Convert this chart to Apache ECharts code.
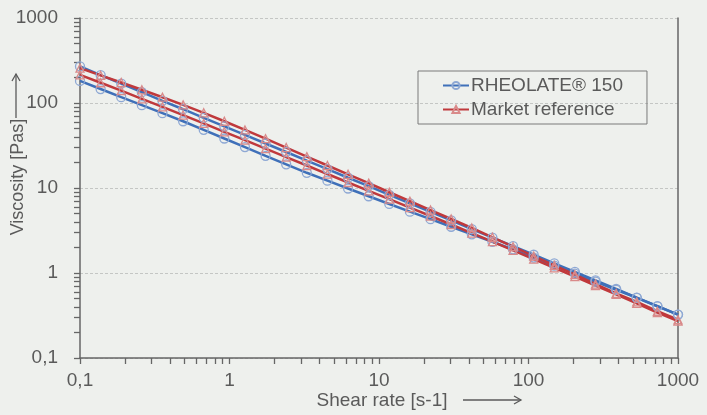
<!DOCTYPE html>
<html>
<head>
<meta charset="utf-8">
<script src="https://cdn.jsdelivr.net/npm/echarts@6/dist/echarts.min.js"></script>
<style>
  html, body { margin: 0; padding: 0; background: #eef0ed; }
  #chart { width: 707px; height: 415px; }
</style>
</head>
<body>
<div id="chart"></div>
<script>
// shear rates [s-1], 30 points per sweep
var shearRate = [0.1, 0.1374, 0.1887, 0.2593, 0.3562, 0.4894, 0.6723, 0.9237, 1.269, 1.743,
  2.395, 3.290, 4.520, 6.210, 8.532, 11.72, 16.10, 22.12, 30.39, 41.76,
  57.37, 78.82, 108.3, 148.7, 204.3, 280.7, 385.7, 529.9, 728.0, 1000];

// RHEOLATE 150, upper and lower curve [Pas]
var rheolateUp = [269, 213, 169, 134, 106, 84.5, 67.0, 53.1, 42.1, 33.4,
  26.5, 21.0, 16.7, 13.2, 10.5, 8.31, 6.59, 5.23, 4.15, 3.29,
  2.61, 2.07, 1.64, 1.30, 1.03, 0.818, 0.649, 0.514, 0.408, 0.324];
var rheolateDown = [182, 146, 117, 94.4, 76.0, 61.0, 48.3, 38.2, 30.3, 23.9,
  19.0, 15.1, 12.2, 9.86, 8.00, 6.49, 5.27, 4.30, 3.50, 2.85,
  2.33, 1.90, 1.52, 1.22, 0.984, 0.791, 0.635, 0.511, 0.406, 0.324];

// Market reference, upper and lower curve [Pas]
var marketUp = [257, 211, 174, 143, 117, 95.1, 76.7, 61.0, 48.2, 38.0,
  29.9, 23.4, 18.4, 14.5, 11.4, 8.91, 7.00, 5.50, 4.32, 3.39,
  2.63, 2.04, 1.58, 1.23, 0.955, 0.741, 0.575, 0.457, 0.355, 0.282];
var marketDown = [214, 173, 140, 112, 90.2, 72.1, 57.5, 45.8, 36.5, 29.0,
  23.1, 18.4, 14.6, 11.6, 9.27, 7.38, 5.87, 4.68, 3.72, 2.95,
  2.34, 1.85, 1.46, 1.15, 0.908, 0.713, 0.560, 0.439, 0.343, 0.272];

var nameRheolate = 'RHEOLATE® 150';
var nameMarket = 'Market reference';

var blue = '#3f70b9';
var blueMark = '#8ea8d4';
var red = '#c0393c';
var redMark = '#d98a8a';
var txt = '#5a5a5a';
var axisCol = '#666666';
var font = 'Liberation Sans, Arial, sans-serif';

function pairs(xs, ys) {
  var out = [];
  for (var i = 0; i < xs.length; i++) out.push([xs[i], ys[i]]);
  return out;
}
function comma(v) { return String(v).replace('.', ','); }

function lineSeries(name, data, lineColor, markColor, symbol, size) {
  return {
    name: name,
    type: 'line',
    data: data,
    symbol: symbol,
    symbolSize: size,
    lineStyle: { color: lineColor, width: 2.5 },
    itemStyle: { color: 'none', borderColor: markColor, borderWidth: 1.3 },
    emphasis: { disabled: true }
  };
}

// decade ticks plus 2..9 minor ticks, all pointing outwards
var tickStyle = { show: true, inside: false, length: 6, lineStyle: { color: axisCol, width: 1.3 } };
var minorStyle = { show: true, splitNumber: 9, length: 6, lineStyle: { color: axisCol, width: 1.3 } };

var chart = echarts.init(document.getElementById('chart'));

var option = {
  backgroundColor: '#eef0ed',
  animation: false,
  textStyle: { fontFamily: font },
  grid: { left: 80, right: 29, top: 18, bottom: 57 },
  legend: {
    orient: 'vertical',
    left: 418,
    top: 71,
    padding: [5, 24, 5, 24],
    itemGap: 5,
    itemWidth: 26,
    itemHeight: 9,
    borderColor: '#7a7a7a',
    borderWidth: 1,
    textStyle: { fontSize: 19, color: txt, fontFamily: font, padding: [0, 0, 0, -3] },
    data: [nameRheolate, nameMarket]
  },
  xAxis: [
    {
      type: 'log', logBase: 10, min: 0.1, max: 1000, position: 'bottom',
      axisLine: { show: true, lineStyle: { color: axisCol, width: 1.5 } },
      axisTick: tickStyle,
      minorTick: minorStyle,
      axisLabel: { formatter: comma, fontSize: 19, color: txt, margin: 13, fontFamily: font },
      splitLine: { show: false },
      minorSplitLine: { show: false }
    }
  ],
  yAxis: [
    {
      type: 'log', logBase: 10, min: 0.1, max: 1000, position: 'left',
      axisLine: { show: true, lineStyle: { color: axisCol, width: 1.5 } },
      axisTick: tickStyle,
      minorTick: minorStyle,
      axisLabel: { formatter: comma, fontSize: 19, color: txt, margin: 22, fontFamily: font },
      splitLine: {
        show: true,
        interval: function (i, v) { return v > 0.1 && v < 1000; },
        lineStyle: { color: '#c4c6c4', type: [3, 2], width: 1.2 }
      },
      minorSplitLine: { show: false }
    },
    {
      type: 'log', logBase: 10, min: 0.1, max: 1000, position: 'right',
      axisLine: { show: true, lineStyle: { color: axisCol, width: 1.5 } },
      axisTick: { show: false }, axisLabel: { show: false }, splitLine: { show: false }
    }
  ],
  series: [
    lineSeries(nameRheolate, pairs(shearRate, rheolateUp), blue, blueMark, 'circle', 9),
    lineSeries(nameRheolate, pairs(shearRate, rheolateDown), blue, blueMark, 'circle', 9),
    lineSeries(nameMarket, pairs(shearRate, marketUp), red, redMark, 'triangle', 8),
    lineSeries(nameMarket, pairs(shearRate, marketDown), red, redMark, 'triangle', 8)
  ],
  graphic: [
    { type: 'text', x: 18, y: 177, rotation: Math.PI / 2,
      style: { text: 'Viscosity [Pas]', fontSize: 18, fontFamily: font, fill: txt, align: 'center', verticalAlign: 'middle' } },
    { type: 'line', shape: { x1: 16, y1: 118, x2: 16, y2: 74 }, style: { stroke: txt, lineWidth: 1.3 } },
    { type: 'polyline', shape: { points: [[12, 81], [16, 74], [20, 81]] }, style: { stroke: txt, lineWidth: 1.3, fill: null } },
    { type: 'text', x: 382, y: 401,
      style: { text: 'Shear rate [s-1]', fontSize: 19, fontFamily: font, fill: txt, align: 'center', verticalAlign: 'middle' } },
    { type: 'line', shape: { x1: 463, y1: 400, x2: 521, y2: 400 }, style: { stroke: txt, lineWidth: 1.3 } },
    { type: 'polyline', shape: { points: [[514, 396], [521, 400], [514, 404]] }, style: { stroke: txt, lineWidth: 1.3, fill: null } }
  ]
};

chart.setOption(option);
</script>
</body>
</html>
